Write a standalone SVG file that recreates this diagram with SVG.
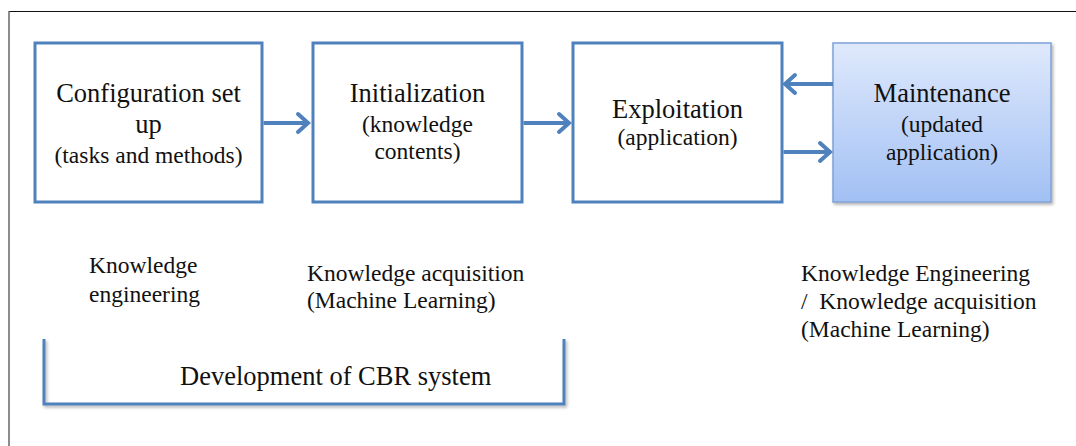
<svg xmlns="http://www.w3.org/2000/svg" width="1076" height="446" viewBox="0 0 1076 446">
  <style>
    .box { fill: #ffffff; stroke: #4f81bd; stroke-width: 3; }
    .title { font-family: "Liberation Serif", "Times New Roman", serif; font-size: 26.5px; fill: #111; text-anchor: middle; }
    .sub { font-family: "Liberation Serif", "Times New Roman", serif; font-size: 23.5px; fill: #111; text-anchor: middle; }
    .note { font-family: "Liberation Serif", "Times New Roman", serif; font-size: 23.5px; fill: #111; }
    .shaft { stroke: #4f81bd; stroke-width: 4; fill: none; }
    .head { stroke: #4f81bd; stroke-width: 4; fill: none; stroke-linecap: round; stroke-linejoin: miter; }
  </style>
  <defs>
    <linearGradient id="maintFill" x1="0" y1="0" x2="0" y2="1">
      <stop offset="0" stop-color="#dfe9fc"/>
      <stop offset="1" stop-color="#a2c0f4"/>
    </linearGradient>
    <filter id="softShadow" x="-10%" y="-10%" width="120%" height="130%">
      <feDropShadow dx="1.5" dy="2" stdDeviation="1.5" flood-color="#000" flood-opacity="0.3"/>
    </filter>
  </defs>

  <rect width="1076" height="446" fill="#ffffff"/>

  <!-- frame edges -->
  <line x1="9" y1="11.5" x2="1076" y2="11.5" stroke="#111" stroke-width="1.2"/>
  <line x1="9" y1="11" x2="9" y2="446" stroke="#666" stroke-width="1.5"/>

  <g id="node-configuration">
    <rect class="box" x="35" y="43" width="227" height="159"/>
    <text class="title" x="148.5" y="102">Configuration set</text>
    <text class="title" x="148.5" y="133">up</text>
    <text class="sub" x="148.5" y="163">(tasks and methods)</text>
  </g>

  <g id="node-initialization">
    <rect class="box" x="313" y="43" width="209" height="159"/>
    <text class="title" x="417.5" y="102">Initialization</text>
    <text class="sub" x="417.5" y="132">(knowledge</text>
    <text class="sub" x="417.5" y="159">contents)</text>
  </g>

  <g id="node-exploitation">
    <rect class="box" x="573" y="43" width="209" height="159"/>
    <text class="title" x="677.5" y="118">Exploitation</text>
    <text class="sub" x="677.5" y="145">(application)</text>
  </g>

  <g id="node-maintenance">
    <rect x="833" y="43" width="218" height="159" fill="url(#maintFill)" stroke="#7ea3d6" stroke-width="1.5" filter="url(#softShadow)"/>
    <text class="title" x="942" y="102">Maintenance</text>
    <text class="sub" x="942" y="132">(updated</text>
    <text class="sub" x="942" y="160">application)</text>
  </g>

  <g id="connectors">
    <line class="shaft" x1="263.5" y1="123" x2="307" y2="123"/>
    <path class="head" d="M298 114 L308 123 L298 132"/>

    <line class="shaft" x1="523.5" y1="123" x2="568" y2="123"/>
    <path class="head" d="M559 114 L569 123 L559 132"/>

    <line class="shaft" x1="833" y1="84" x2="786" y2="84"/>
    <path class="head" d="M795 75 L785 84 L795 93"/>

    <line class="shaft" x1="783.5" y1="152" x2="829" y2="152"/>
    <path class="head" d="M820 143 L830 152 L820 161"/>
  </g>

  <g id="phase-labels">
    <text class="note" x="89" y="273">Knowledge</text>
    <text class="note" x="89" y="302">engineering</text>
    <text class="note" x="307" y="281">Knowledge acquisition</text>
    <text class="note" x="307" y="308">(Machine Learning)</text>
    <text class="note" x="801" y="281">Knowledge Engineering</text>
    <text class="note" x="801" y="309" xml:space="preserve">/  Knowledge acquisition</text>
    <text class="note" x="801" y="337">(Machine Learning)</text>
  </g>

  <g id="development-bracket">
    <path d="M44 339 L44 404 L564 404 L564 339" fill="none" stroke="#4f81bd" stroke-width="3" filter="url(#softShadow)"/>
    <text class="title" x="180" y="385" style="text-anchor:start">Development of CBR system</text>
  </g>
</svg>
